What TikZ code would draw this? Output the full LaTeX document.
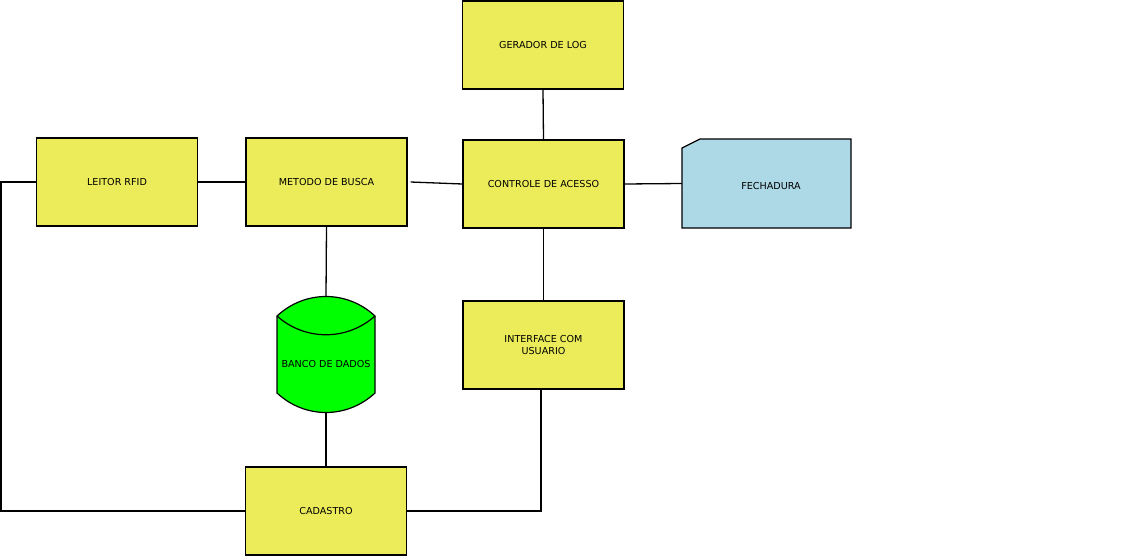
\documentclass[tikz,border=0pt]{standalone}
\usepackage{fontspec}
\setmainfont{DejaVu Sans}
\definecolor{boxyellow}{HTML}{ECEC5A}
\definecolor{lockblue}{HTML}{ADD8E6}
\definecolor{dbgreen}{HTML}{00FF00}
\tikzset{
  blk/.style={draw=black, fill=boxyellow, line width=1.2pt, minimum width=161pt, minimum height=88pt, inner sep=0pt, align=center, font=\fontsize{9.6}{12}\selectfont},
  ghost/.style={draw=none, inner sep=0pt, align=center, font=\fontsize{9.6}{12}\selectfont},
  conn/.style={draw=black, line width=1.3pt}
}
\begin{document}
\begin{tikzpicture}[x=1pt,y=-1pt]
\useasboundingbox (0,0) rectangle (1133,557);
\node[blk] (gerador) at (543,45) {GERADOR DE LOG};
\node[blk] (leitor) at (117,182) {LEITOR RFID};
\node[blk] (metodo) at (326.5,182) {METODO DE BUSCA};
\node[blk] (controle) at (543.5,184) {CONTROLE DE ACESSO};
\node[blk] (interface) at (543.5,345) {INTERFACE COM\\USUARIO};
\node[blk] (cadastro) at (326,511) {CADASTRO};
% fechadura (card shape)
\node[ghost, minimum width=169pt, minimum height=89pt] (fech) at (766.5,183.5) {};
\fill[lockblue, draw=black, line width=1.2pt] (682,148) -- (700,139) -- (851,139) -- (851,228) -- (682,228) -- cycle;
\node[ghost] (fechtxt) at (771,186) {FECHADURA};
% banco de dados
\node[ghost, minimum width=98pt, minimum height=116pt] (banco) at (326,355) {};
\fill[dbgreen, draw=black, line width=1.2pt] (277,316) .. controls (305,290) and (347,290) .. (375,316) -- (375,393) .. controls (347,419) and (305,419) .. (277,393) -- cycle;
\draw[line width=1.2pt] (277,316) .. controls (305,341) and (347,341) .. (375,316);
\node[ghost] (bancotxt) at (326,364) {BANCO DE DADOS};
% connectors
\coordinate (lc) at (1,182);
\draw[conn] (leitor.east) -- (metodo.west);
\draw[conn] ([xshift=3pt]metodo.east) -- (controle.west);
\draw[conn] (controle.east) -- (fech.west);
\draw[conn] (gerador.south) -- (controle.north);
\draw[conn] (controle.south) -- (interface.north);
\draw[conn] (metodo.south) -- (banco.north);
\draw[conn] (banco.south) -- (cadastro.north);
\draw[conn] ([xshift=-2.5pt]interface.south) |- (cadastro.east);
\draw[conn] (leitor.west) -- (lc) |- (cadastro.west);
\end{tikzpicture}
\end{document}
